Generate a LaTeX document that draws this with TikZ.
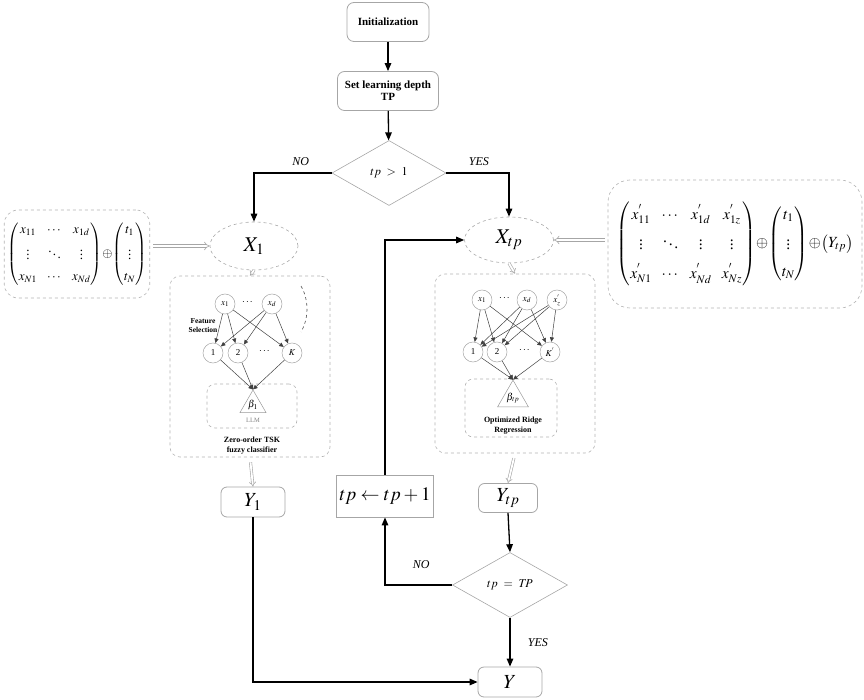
\documentclass[tikz,border=0pt]{standalone}
\usepackage{amsmath}
\usepackage{mathptmx}
\usepackage{fontspec}
\setmainfont{Liberation Serif}
\usetikzlibrary{shapes.geometric,arrows.meta,positioning}

\tikzset{
  startbox/.style={draw=gray!70, rounded corners=7pt, line width=0.8pt, align=center,
    inner sep=2pt, font=\bfseries\fontsize{11}{12}\selectfont},
  outbox/.style={draw=gray!70, rounded corners=6pt, line width=0.8pt,
    font=\fontsize{20}{22}\selectfont},
  cond/.style={diamond, draw=gray!70, line width=0.6pt, inner sep=0pt,
    font=\fontsize{12}{14}\selectfont},
  dataset/.style={ellipse, draw=gray!70, dashed, line width=0.6pt,
    font=\fontsize{21}{24}\selectfont},
  group/.style={draw=gray!60, dashed, rounded corners=10pt, line width=0.6pt},
  neuron/.style={circle, draw=gray!70, line width=0.5pt, minimum size=20pt,
    inner sep=0pt, font=\fontsize{9}{10}\selectfont},
  weight/.style={regular polygon, regular polygon sides=3, draw=gray!80,
    line width=0.5pt, inner sep=0pt, font=\fontsize{10}{11}\selectfont},
  flow/.style={-{Triangle[length=8pt,width=6.5pt]}, line width=1.3pt},
  hollow/.style={draw=gray!70, double=white, double distance=2.4pt,
    line width=0.6pt, -{Implies}},
  link/.style={-{Triangle[length=4.5pt,width=4pt]}, line width=0.5pt, draw=black!75},
  tag/.style={font=\itshape\fontsize{12}{14}\selectfont},
  note/.style={font=\bfseries\fontsize{7.5}{9}\selectfont, align=center}
}

\begin{document}
\begin{tikzpicture}[x=1pt,y=-1pt]
  \useasboundingbox (0,0) rectangle (864,700);

  % Start
  \node[startbox, minimum width=82pt, minimum height=39pt] (init) at (388,22) {Initialization};
  \node[startbox, minimum width=101pt, minimum height=39pt] (depth) at (388,91) {Set learning depth\\TP};
  \node[cond, minimum width=114pt, minimum height=65pt] (first) at (389,173) {$tp\ >\ 1$};
  \draw[flow] (init) -- (depth);
  \draw[flow] (depth) -- (first);

  % Data sets
  \node[dataset, minimum width=88pt, minimum height=48pt] (X1) at (254,246) {$X_1$};
  \node[dataset, minimum width=89pt, minimum height=46pt] (Xtp) at (509,240) {$X_{tp}$};
  \draw[flow] (first.west) -| (X1.north) node[tag, pos=0.2, above=3pt] {NO};
  \draw[flow] (first.east) -| (Xtp.north) node[tag, pos=0.26, above=3pt] {YES};

  % Input matrices
  \node[group, rounded corners=14pt, minimum width=145pt, minimum height=88pt,
    font=\fontsize{13}{15}\selectfont] (lmat) at (77,254)
    {$\begin{pmatrix} x_{11} & \cdots & x_{1d}\\[6pt] \vdots & \ddots & \vdots\\[6pt] x_{N1} & \cdots & x_{Nd}\end{pmatrix}
      \!\oplus\! \begin{pmatrix} t_1\\[6pt] \vdots\\[6pt] t_N\end{pmatrix}$};
  \node[group, rounded corners=22pt, inner sep=0pt, minimum width=254pt, minimum height=128pt,
    font=\fontsize{15.5}{18}\selectfont] (rmat) at (735,244)
    {$\begin{pmatrix} x^{'}_{11} & \cdots & x^{'}_{1d} & x^{'}_{1z}\\[9pt] \vdots & \ddots & \vdots & \vdots\\[9pt]
      x^{'}_{N1} & \cdots & x^{'}_{Nd} & x^{'}_{Nz}\end{pmatrix}
      \!\oplus\! \begin{pmatrix} t_1\\[9pt] \vdots\\[9pt] t_N\end{pmatrix}
      \!\oplus\! \begin{pmatrix} Y_{tp}\end{pmatrix}$};
  \draw[hollow, shorten <=3pt] (lmat.east |- X1.west) -- (X1.west);
  \draw[hollow, shorten <=3pt] (rmat.west |- Xtp.east) -- (Xtp.east);

  % Zero-order TSK fuzzy classifier
  \node[group, minimum width=160pt, minimum height=181pt] (lnet) at (250,366.5) {};
  \node[neuron] (l-x1) at (225,304) {$x_1$};
  \node at (248,302) {$\cdots$};
  \node[neuron] (l-xd) at (272,304) {$x_d$};
  \node[neuron] (l-h1) at (213,353) {1};
  \node[neuron] (l-h2) at (238,353) {2};
  \node at (265,351) {$\cdots$};
  \node[neuron] (l-hK) at (292,353) {$K$};
  \node[note] (l-fs) at (203,326) {Feature\\Selection};
  \draw[dashed, line width=0.6pt, black!70] (301,286) .. controls (309,300) and (309,318) .. (301,332);
  \node[group, rounded corners=8pt, minimum width=90pt, minimum height=44pt] (l-llm) at (252,406) {};
  \node[weight, minimum size=30pt] (l-beta) at (253,405) {$\beta_1$};
  \node[font=\fontsize{6.5}{7}\selectfont, gray] (l-tag) at (253,420) {LLM};
  \node[note, font=\bfseries\fontsize{8}{10}\selectfont] (l-name) at (252,446) {Zero-order TSK\\fuzzy classifier};
  \foreach \s in {l-x1,l-xd}
    \foreach \t in {l-h1,l-h2,l-hK}
      \draw[link] (\s) -- (\t);
  \foreach \t in {l-h1,l-h2,l-hK}
    \draw[link] (\t) -- (l-beta.corner 1);

  % Optimized ridge regression
  \node[group, minimum width=160pt, minimum height=179pt] (rnet) at (515,363.5) {};
  \node[neuron] (r-x1) at (482,300) {$x_1$};
  \node at (505,298) {$\cdots$};
  \node[neuron] (r-xd) at (527,300) {$x_d$};
  \node[neuron] (r-xz) at (557,300) {$x^{'}_{z}$};
  \node[neuron] (r-h1) at (473,352) {1};
  \node[neuron] (r-h2) at (497,352) {2};
  \node at (525,350) {$\cdots$};
  \node[neuron] (r-hK) at (550,352) {$K^{'}$};
  \node[group, rounded corners=8pt, minimum width=92pt, minimum height=58pt] (r-orr) at (511,408) {};
  \node[weight, minimum size=32pt] (r-beta) at (513,398) {$\beta_{tp}$};
  \node[note, font=\bfseries\fontsize{8}{10}\selectfont] (r-name) at (513,425.5) {Optimized Ridge\\Regression};
  \foreach \s in {r-x1,r-xd,r-xz}
    \foreach \t in {r-h1,r-h2,r-hK}
      \draw[link] (\s) -- (\t);
  \foreach \t in {r-h1,r-h2,r-hK}
    \draw[link] (\t) -- (r-beta.corner 1);

  \draw[hollow, double distance=1.8pt] (X1.south) -- (lnet.north);
  \draw[hollow, double distance=1.8pt] (Xtp.south) -- (rnet.north);

  % Outputs
  \node[outbox, minimum width=64pt, minimum height=30pt] (Y1) at (253,502) {$Y_1$};
  \node[outbox, minimum width=59pt, minimum height=29pt] (Ytp) at (508,498) {$Y_{tp}$};
  \node[draw=gray!70, line width=0.8pt, minimum width=93pt, minimum height=42pt,
    font=\fontsize{19}{22}\selectfont] (step-up) at (385,496) {$tp \leftarrow tp+1$};
  \node[cond, minimum width=115pt, minimum height=65pt] (last) at (510,585) {$tp\ =\ T\!P$};
  \node[outbox, minimum width=64pt, minimum height=30pt] (Y) at (510,682) {$Y$};
  \draw[hollow, double distance=1.8pt, shorten <=5pt] (lnet.south) -- (Y1.north);
  \draw[hollow, double distance=1.8pt, shorten <=5pt] (rnet.south) -- (Ytp.north);

  % Loop
  \draw[flow] (Ytp.south) -- (last.north);
  \draw[flow] (last.west) -| (step-up.south) node[tag, pos=0.23, above=12pt] {NO};
  \draw[flow] (step-up.north) |- (Xtp.west);
  \draw[flow] (last.south) -- (Y.north) node[tag, midway, right=14pt] {YES};
  \draw[flow] (Y1.south) |- (Y.west);
\end{tikzpicture}
\end{document}
